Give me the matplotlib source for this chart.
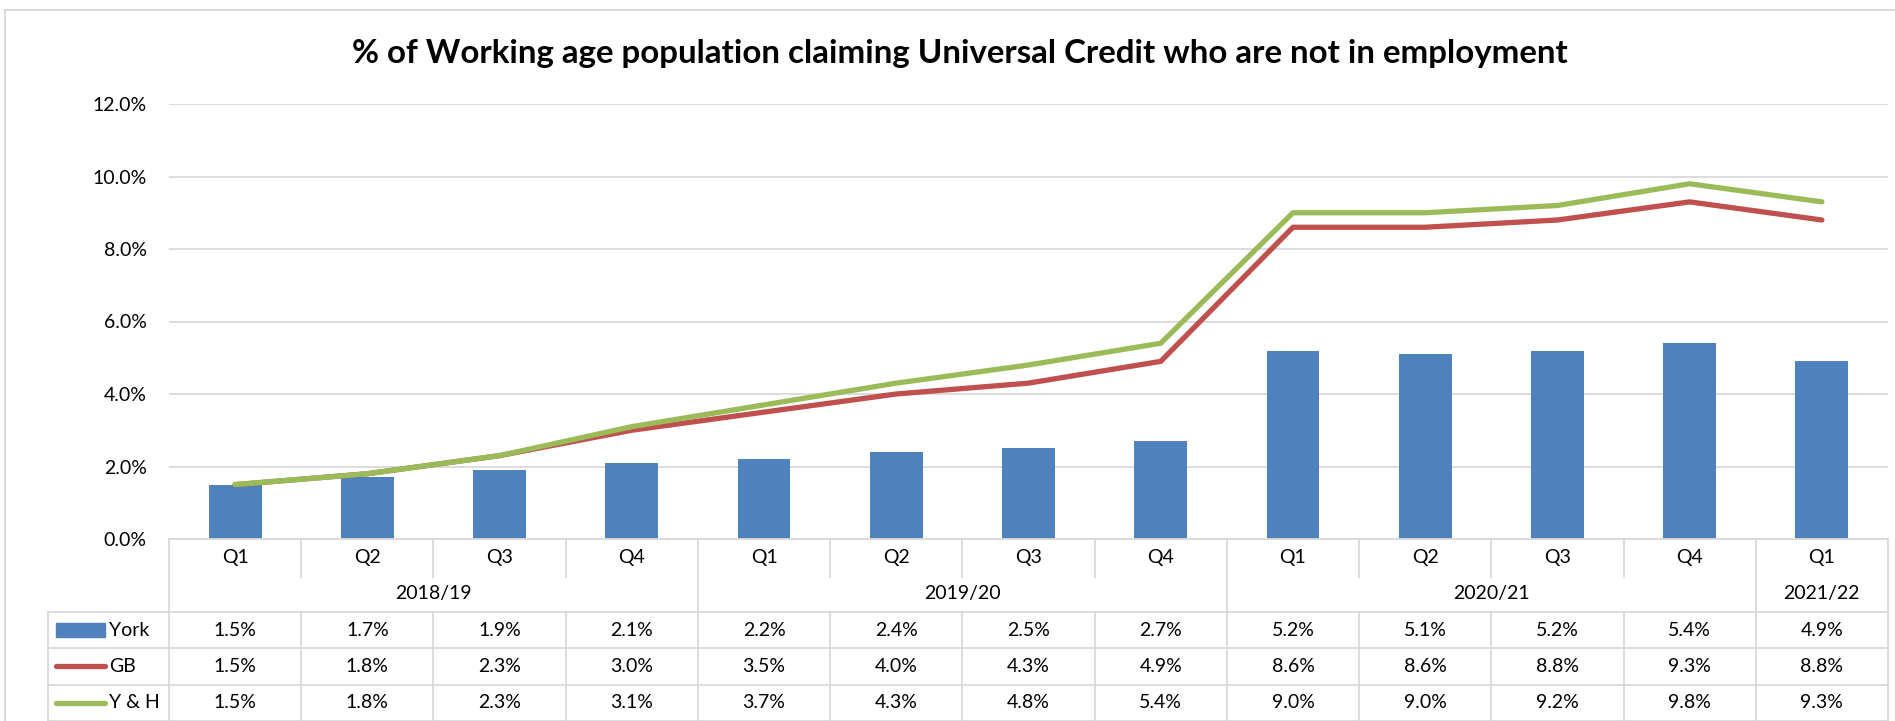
import numpy as np
import matplotlib
matplotlib.use("Agg")
import matplotlib.pyplot as plt
from matplotlib.lines import Line2D
from matplotlib.patches import Rectangle

quarters = ["Q1", "Q2", "Q3", "Q4", "Q1", "Q2", "Q3", "Q4", "Q1", "Q2", "Q3", "Q4", "Q1"]
years = ["2018/19", "2019/20", "2020/21", "2021/22"]
year_counts = [4, 4, 4, 1]
york = [1.5, 1.7, 1.9, 2.1, 2.2, 2.4, 2.5, 2.7, 5.2, 5.1, 5.2, 5.4, 4.9]
gb = [1.5, 1.8, 2.3, 3.0, 3.5, 4.0, 4.3, 4.9, 8.6, 8.6, 8.8, 9.3, 8.8]
yh = [1.5, 1.8, 2.3, 3.1, 3.7, 4.3, 4.8, 5.4, 9.0, 9.0, 9.2, 9.8, 9.3]

blue = "#4F81BD"
red = "#C0504D"
green = "#9BBB59"
grid_col = "#D9D9D9"

plt.rcParams["font.family"] = ["Lato", "DejaVu Sans"]

W, H = 1895, 721
fig = plt.figure(figsize=(W / 100, H / 100), dpi=100)

def fx(px):
    return px / W

def fy(py):
    return 1 - py / H

# chart area border (only top and left visible)
fig.add_artist(Line2D([fx(5), 1], [fy(10), fy(10)], color=grid_col, lw=1.5))
fig.add_artist(Line2D([fx(5), fx(5)], [fy(10), 0], color=grid_col, lw=1.5))

fig.text(fx(960), fy(54), "% of Working age population claiming Universal Credit who are not in employment",
         ha="center", va="center", fontsize=23.8, fontweight="bold")

# main plot
left, right, top, bottom = 169, 1888, 104, 539
ax = fig.add_axes([fx(left), fy(bottom), fx(right - left), fy(top) - fy(bottom)])
x = np.arange(len(quarters))
ax.bar(x, york, width=0.4, color=blue, zorder=2)
ax.plot(x, gb, color=red, lw=3.8, zorder=3, solid_capstyle="round", solid_joinstyle="round")
ax.plot(x, yh, color=green, lw=3.8, zorder=3, solid_capstyle="round", solid_joinstyle="round")
ax.set_xlim(-0.5, len(quarters) - 0.5)
ax.set_ylim(0, 12)
ax.set_yticks(np.arange(0, 12.1, 2))
ax.set_yticklabels([f"{v:.1f}%" for v in np.arange(0, 12.1, 2)])
ax.yaxis.grid(True, color=grid_col, lw=1.3)
ax.set_axisbelow(True)
ax.set_xticks([])
ax.tick_params(axis="y", length=0, pad=16, labelsize=14)
for s in ax.spines.values():
    s.set_visible(False)

# data table below the plot
tab = fig.add_axes([fx(left), 0, fx(right - left), fy(bottom)])
tab.set_xlim(-0.5, len(quarters) - 0.5)
tab.set_ylim(5, 0)
tab.axis("off")
tcol = dict(color=grid_col, lw=1.3, clip_on=False)
legend_left = -0.5 - (left - 48) / ((right - left) / len(quarters))

# horizontal lines
tab.plot([-0.5, 12.5], [0, 0], **tcol)
for r in [2, 3, 4, 5]:
    tab.plot([legend_left, 12.5], [r, r], **tcol)
tab.plot([legend_left, legend_left], [2, 5], **tcol)

# vertical lines: quarter separators in Q row, year separators full height
year_edges = np.cumsum([0] + year_counts) - 0.5
for b in np.arange(-0.5, len(quarters)):
    if b in year_edges:
        tab.plot([b, b], [0, 5], **tcol)
    else:
        tab.plot([b, b], [0, 1.05], **tcol)
        tab.plot([b, b], [2, 5], **tcol)

for i, q in enumerate(quarters):
    tab.text(i, 0.5, q, ha="center", va="center", fontsize=14)
for j, yr in enumerate(years):
    tab.text((year_edges[j] + year_edges[j + 1]) / 2, 1.5, yr, ha="center", va="center", fontsize=14)

for r, vals in zip([2, 3, 4], [york, gb, yh]):
    for i, v in enumerate(vals):
        tab.text(i, r + 0.5, f"{v:.1f}%", ha="center", va="center", fontsize=14)

# legend keys in first column
key_l = legend_left + 0.06
key_r = legend_left + 0.43
tab.add_patch(Rectangle((key_l, 2.32), key_r - key_l, 0.36, color=blue, clip_on=False))
tab.plot([key_l, key_r], [3.5, 3.5], color=red, lw=3.8, solid_capstyle="round", clip_on=False)
tab.plot([key_l, key_r], [4.5, 4.5], color=green, lw=3.8, solid_capstyle="round", clip_on=False)
for r, name in zip([2, 3, 4], ["York", "GB", "Y & H"]):
    tab.text(key_r + 0.03, r + 0.5, name, ha="left", va="center", fontsize=14)

fig.savefig("out.png", dpi=100)
